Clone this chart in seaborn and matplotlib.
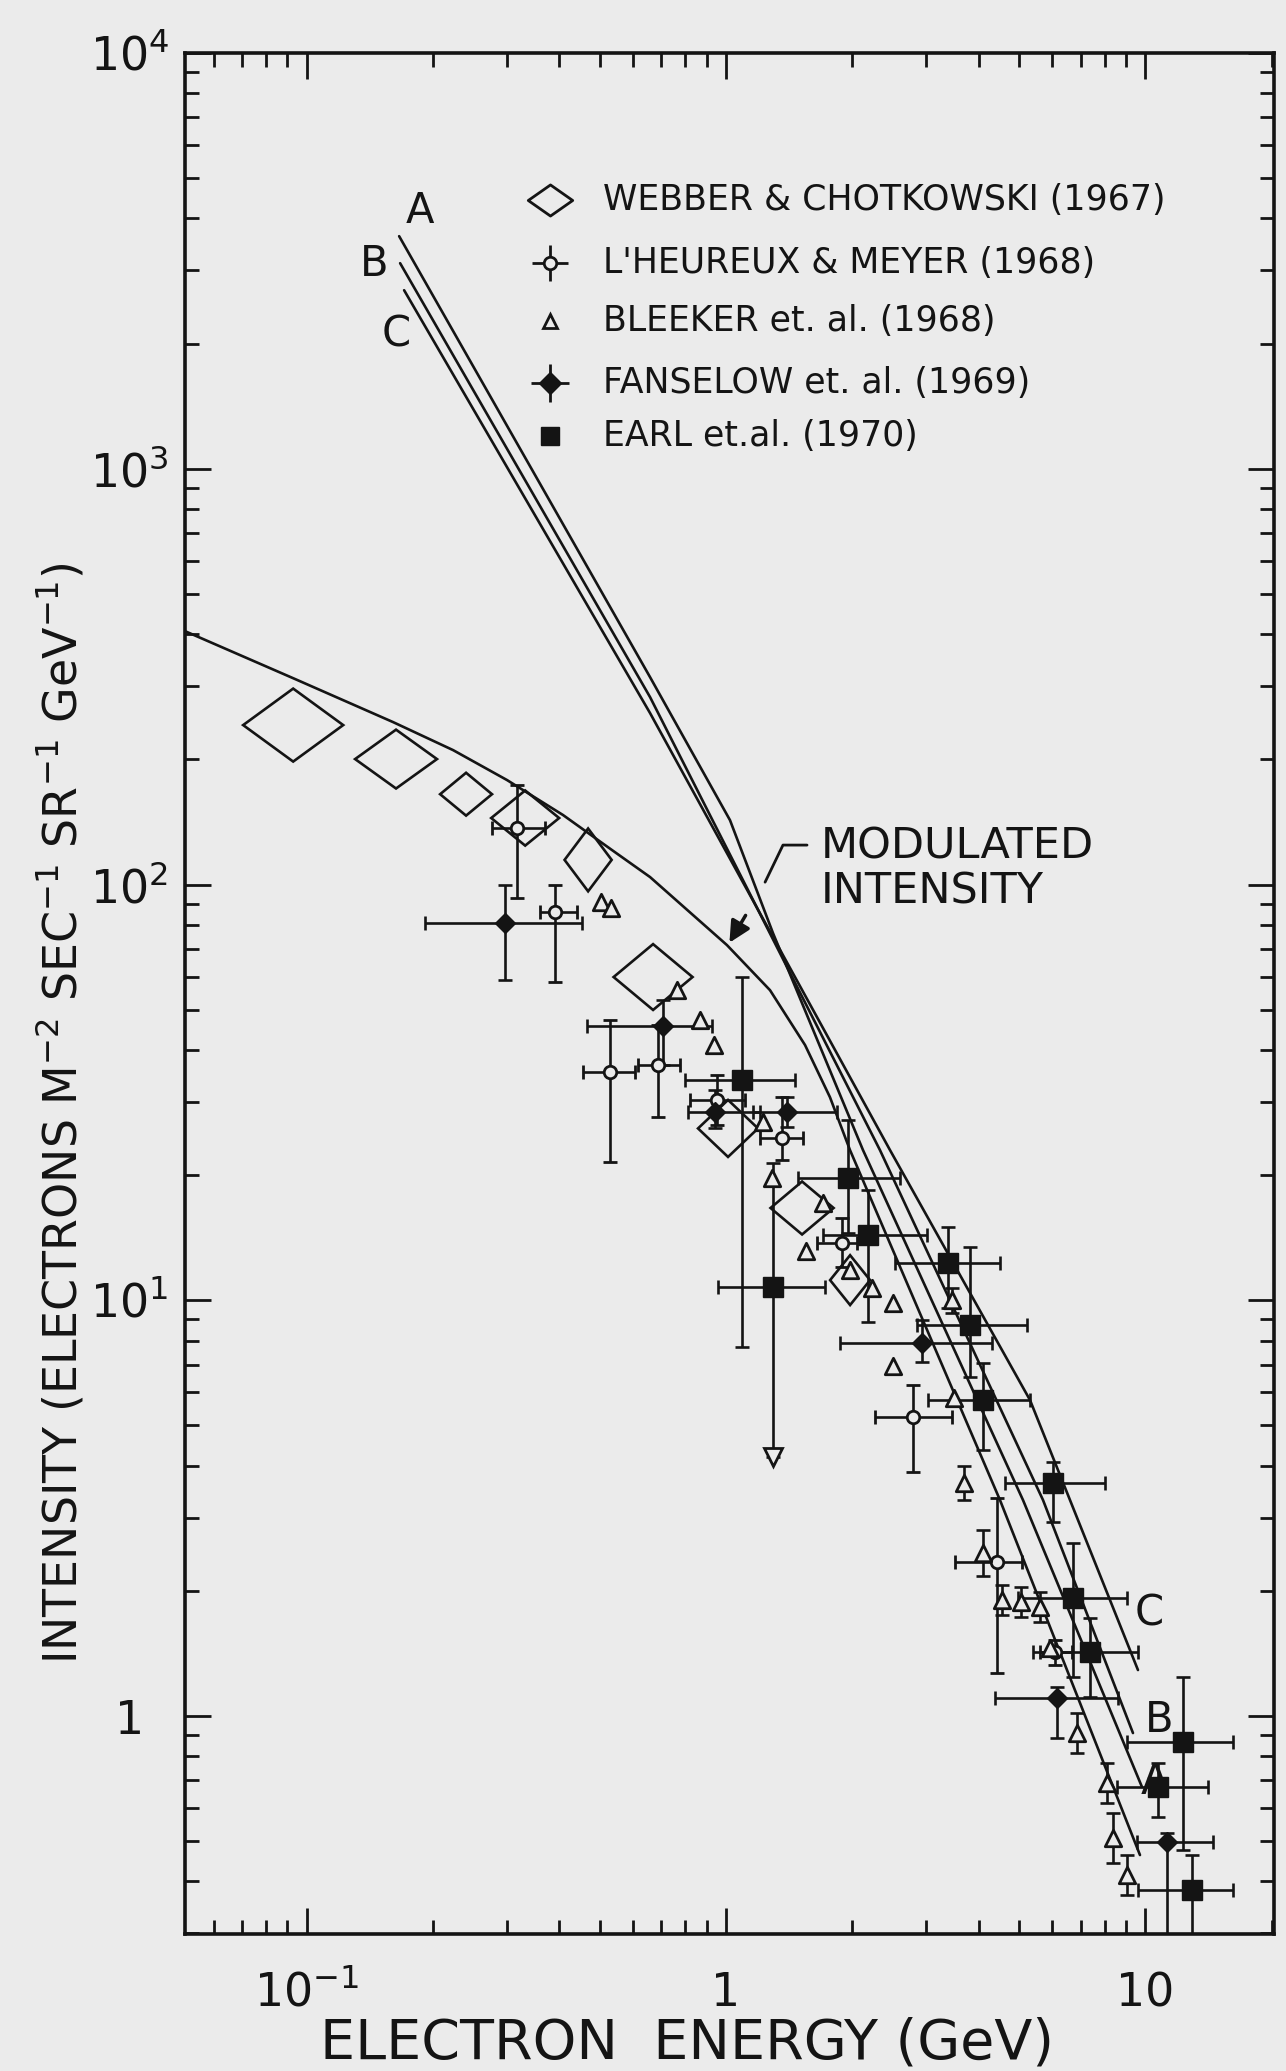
import numpy as np
import seaborn as sns
import matplotlib.pyplot as plt
from matplotlib.path import Path
from matplotlib.ticker import LogLocator, NullFormatter

# interstellar spectra A, B, C and the modulated intensity (E in GeV)
curve_a_e = [0.1662, 0.659, 1.022, 1.294, 2.121, 5.105, 9.81]
curve_a_i = [3626, 315.3, 142.8, 76.4, 22.97, 3.307, 0.675]
curve_b_e = [0.1671, 0.659, 2.328, 5.698, 9.337]
curve_b_i = [3122, 282.3, 22.97, 3.307, 0.910]
curve_c_e = [0.1708, 0.659, 2.46, 5.305, 9.597]
curve_c_i = [2688, 258.4, 22.97, 5.754, 1.29]
mod_e = [0.0513, 0.0939, 0.1608, 0.2235, 0.3006, 0.4088, 0.5348, 0.659,
         1.005, 1.273, 1.543, 1.769, 1.975, 4.499, 9.703]
mod_i = [406.8, 312, 245.8, 210.5, 178.3, 146.9, 121.0, 104.2,
         71.5, 55.7, 41.1, 30.8, 22.97, 3.307, 0.463]

# Webber & Chotkowski (1967): centre and half-size factors of the boxes
wc_e = [0.0929, 0.1634, 0.240, 0.332, 0.469, 0.670, 1.011, 1.518, 1.976]
wc_i = [241.8, 200.3, 164.9, 144.5, 114.6, 59.9, 25.9, 16.67, 11.18]
wc_fe = [1.316, 1.252, 1.153, 1.205, 1.138, 1.242, 1.179, 1.189, 1.116]
wc_fi = [1.224, 1.177, 1.126, 1.165, 1.190, 1.200, 1.171, 1.158, 1.148]

# L'Heureux & Meyer (1968)
lm_e = [0.3176, 0.3913, 0.5291, 0.6884, 0.952, 1.360, 1.890, 2.791, 4.426, 6.085]
lm_i = [136.7, 85.8, 35.4, 36.8, 30.3, 24.6, 13.73, 5.238, 2.346, 1.425]
lm_elo = [0.2769, 0.3602, 0.456, 0.617, 0.821, 1.205, 1.648, 2.266, 3.515, 5.605]
lm_ehi = [0.3703, 0.4414, 0.6067, 0.777, 1.11, 1.526, 2.052, 3.457, 5.077, 6.68]
lm_ilo = [92.7, 58.3, 21.5, 27.6, 26.4, 21.7, 12.02, 3.863, 1.269, 1.326]
lm_ihi = [173.4, 99.7, 47.2, 45.9, 34.8, 30.8, 15.77, 6.25, 3.344, 1.523]

# Bleeker et al. (1968), error in dex (0 = no bar)
bl_e = [0.5035, 0.532, 0.764, 0.867, 0.936, 1.225, 1.287, 1.703, 1.551, 1.975,
        2.229, 2.501, 2.501, 3.457, 3.496, 3.692, 4.1, 4.549, 5.05, 5.605,
        5.92, 6.866, 8.096, 8.367, 9.035]
bl_i = [90.7, 87.8, 55.7, 47.2, 41.1, 26.83, 19.67, 17.13, 13.13, 11.82,
        10.70, 9.85, 6.946, 10.01, 5.818, 3.634, 2.466, 1.901, 1.88, 1.829,
        1.457, 0.91, 0.690, 0.5087, 0.4146]
bl_err = [0, 0, 0, 0, 0, 0, 0, 0, 0, 0,
          0, 0, 0, 0.03, 0, 0.04, 0.055, 0.036, 0.036, 0.036,
          0, 0.048, 0.048, 0.06, 0.048]

# Fanselow et al. (1969)
fa_e = [0.2972, 0.7075, 0.9415, 1.398, 2.932, 6.152, 11.25]
fa_i = [80.8, 45.6, 28.4, 28.4, 7.889, 1.105, 0.4977]
fa_elo = [0.1916, 0.4662, 0.812, 1.16, 1.870, 4.378, 9.54]
fa_ehi = [0.4536, 0.926, 1.205, 1.839, 4.306, 8.6, 14.49]
fa_ilo = [58.9, 36.8, 25.96, 26.1, 7.10, 0.885, 0.25]
fa_ihi = [99.7, 52.7, 32.0, 30.8, 8.96, 1.174, 0.5232]

# Earl et al. (1970); the second point is an upper limit
ea_e = [1.092, 1.294, 1.953, 2.181, 3.382, 3.816, 4.1, 6.018, 6.718, 7.373, 12.29, 10.71, 12.9]
ea_i = [33.85, 10.76, 19.67, 14.35, 12.29, 8.717, 5.754, 3.634, 1.922, 1.425, 0.866, 0.675, 0.3815]
ea_elo = [0.798, 0.957, 1.484, 1.703, 2.528, 2.853, 3.031, 4.625, 4.967, 5.393, 9.035, 8.551, 9.597]
ea_ehi = [1.460, 1.722, 2.598, 3.015, 4.499, 5.219, 5.305, 8.009, 9.035, 9.597, 16.17, 14.09, 16.17]
ea_ilo = [7.72, 4.2, 14.51, 8.864, 9.58, 6.537, 4.362, 2.928, 1.241, 1.111, 0.476, 0.5715, 0.25]
ea_ihi = [59.9, 21.4, 27.1, 18.41, 15.0, 13.43, 7.063, 4.082, 2.607, 1.721, 1.241, 0.771, 0.463]

legend_labels = ["WEBBER & CHOTKOWSKI (1967)", "L'HEUREUX & MEYER (1968)",
                 "BLEEKER et. al. (1968)", "FANSELOW et. al. (1969)", "EARL et.al. (1970)"]

sns.set_style("ticks")
plt.rcParams['font.family'] = ['DejaVu Sans']
plt.rcParams['mathtext.default'] = 'regular'

ink = '#141414'
paper = '#ebebeb'
lw = 1.9

fig = plt.figure(figsize=(12.86, 20.71), dpi=100, facecolor=paper)
ax = fig.add_axes([185 / 1286, 1 - 1934 / 2071, 1089 / 1286, 1881 / 2071])
ax.set_facecolor(paper)
ax.set_xscale('log')
ax.set_yscale('log')
ax.set_xlim(0.0513, 20.25)
ax.set_ylim(0.299, 1.0e4)

for xs, ys in [(curve_a_e, curve_a_i), (curve_b_e, curve_b_i),
               (curve_c_e, curve_c_i), (mod_e, mod_i)]:
    sns.lineplot(x=xs, y=ys, sort=False, estimator=None, color=ink, lw=lw, ax=ax)

# Webber & Chotkowski boxes drawn as diamonds
for e, i, fe, fi in zip(wc_e, wc_i, wc_fe, wc_fi):
    ax.fill([e / fe, e, e * fe, e], [i, i * fi, i, i / fi],
            facecolor='none', edgecolor=ink, lw=lw)


def bars(e, i, elo, ehi, ilo, ihi, **kw):
    e = np.asarray(e)
    i = np.asarray(i)
    ax.errorbar(e, i, xerr=[e - np.asarray(elo), np.asarray(ehi) - e],
                yerr=[i - np.asarray(ilo), np.asarray(ihi) - i],
                ecolor=ink, elinewidth=lw, capsize=5, capthick=lw, **kw)


bars(lm_e, lm_i, lm_elo, lm_ehi, lm_ilo, lm_ihi, fmt='o', ms=9,
     mfc=paper, mec=ink, mew=2, zorder=4)
bars(fa_e, fa_i, fa_elo, fa_ehi, fa_ilo, fa_ihi, fmt='D', ms=10,
     color=ink, zorder=4)
bars(ea_e, ea_i, ea_elo, ea_ehi, ea_ilo, ea_ihi, fmt='s', ms=14,
     color=ink, zorder=4)
ax.plot([ea_e[1]], [ea_ilo[1]], marker='v', ms=13, mfc=paper, mec=ink, mew=2, zorder=5)

bl_e_a = np.asarray(bl_e)
bl_i_a = np.asarray(bl_i)
bl_err_a = np.asarray(bl_err)
has = bl_err_a > 0
ax.errorbar(bl_e_a[has], bl_i_a[has],
            yerr=[bl_i_a[has] * (1 - 10 ** -bl_err_a[has]), bl_i_a[has] * (10 ** bl_err_a[has] - 1)],
            fmt='none', ecolor=ink, elinewidth=lw, capsize=5, capthick=lw, zorder=3)
sns.scatterplot(x=bl_e, y=bl_i, marker='^', s=140, color=paper,
                edgecolor=ink, linewidth=2, zorder=5, ax=ax)

# curve labels
ax.text(0.1865, 4165, 'A', fontsize=30, ha='center', va='center', color=ink)
ax.text(0.1448, 3105, 'B', fontsize=30, ha='center', va='center', color=ink)
ax.text(0.1634, 2107, 'C', fontsize=30, ha='center', va='center', color=ink)
ax.text(10.19, 1.769, 'C', fontsize=30, ha='center', va='center', color=ink)
ax.text(10.77, 0.978, 'B', fontsize=30, ha='center', va='center', color=ink)
ax.text(10.53, 0.694, 'A', fontsize=30, ha='center', va='center', color=ink)

ax.text(1.685, 108.9, 'MODULATED\nINTENSITY', fontsize=31, ha='left', va='center',
        linespacing=1.1, color=ink)
ax.plot([1.560, 1.367, 1.239], [124.4, 124.4, 101.3], color=ink, lw=2)
ax.annotate('', xy=(1.011, 71.5), xytext=(1.122, 85.4),
            arrowprops=dict(arrowstyle='-|>', color=ink, lw=2.5, mutation_scale=32))

# legend, drawn by hand
leg_y = [0.9219, 0.8884, 0.8575, 0.8246, 0.7964]
mx, tx = 0.3352, 0.3838
wide_diamond = Path([(-1, 0), (0, 0.7), (1, 0), (0, -0.7), (-1, 0)],
                    [Path.MOVETO, Path.LINETO, Path.LINETO, Path.LINETO, Path.CLOSEPOLY])
tr = ax.transAxes
ax.plot([mx], [leg_y[0]], marker=wide_diamond, ms=32, mfc='none', mec=ink, mew=2, transform=tr)
ax.plot([mx], [leg_y[1]], marker='+', ms=26, mec=ink, mew=2, transform=tr)
ax.plot([mx], [leg_y[1]], marker='o', ms=9, mfc=paper, mec=ink, mew=2, transform=tr)
ax.plot([mx], [leg_y[2]], marker='^', ms=10, mfc=paper, mec=ink, mew=2, transform=tr)
ax.plot([mx], [leg_y[3]], marker='+', ms=28, mec=ink, mew=2, transform=tr)
ax.plot([mx], [leg_y[3]], marker='D', ms=11, color=ink, transform=tr)
ax.plot([mx], [leg_y[4]], marker='s', ms=13, color=ink, transform=tr)
for y, lab in zip(leg_y, legend_labels):
    ax.text(tx, y, lab, fontsize=25, ha='left', va='center', color=ink, transform=tr)

# axes styling
ax.set_xticks([0.1, 1, 10], ['$10^{-1}$', '1', '10'])
ax.set_yticks([1, 10, 100, 1000, 10000], ['1', '$10^1$', '$10^2$', '$10^3$', '$10^4$'])
for axis in (ax.xaxis, ax.yaxis):
    axis.set_minor_locator(LogLocator(base=10, subs=np.arange(2, 10) * 1.0, numticks=30))
    axis.set_minor_formatter(NullFormatter())
ax.tick_params(which='both', direction='in', top=True, right=True, width=2, color=ink,
               labelcolor=ink)
ax.tick_params(which='major', length=19)
ax.tick_params(which='minor', length=10)
ax.tick_params(axis='x', which='major', pad=52, labelsize=33)
ax.tick_params(axis='y', which='major', pad=40, labelsize=33)
for t in ax.get_xticklabels():
    t.set_verticalalignment('baseline')
for t in ax.get_yticklabels():
    t.set_horizontalalignment('center')
for s in ax.spines.values():
    s.set_linewidth(2.6)
    s.set_color(ink)
ax.set_xlabel('')
ax.set_ylabel('')

fig.text(687 / 1286, 1 - 2044 / 2071, 'ELECTRON  ENERGY (GeV)', fontsize=40,
         ha='center', va='center', color=ink)
fig.text(61 / 1286, 1 - 1113 / 2071,
         'INTENSITY (ELECTRONS M$^{-2}$ SEC$^{-1}$ SR$^{-1}$ GeV$^{-1}$)',
         fontsize=33, rotation=90, ha='center', va='center', color=ink)

fig.savefig('out.png', dpi=100, facecolor=paper)
